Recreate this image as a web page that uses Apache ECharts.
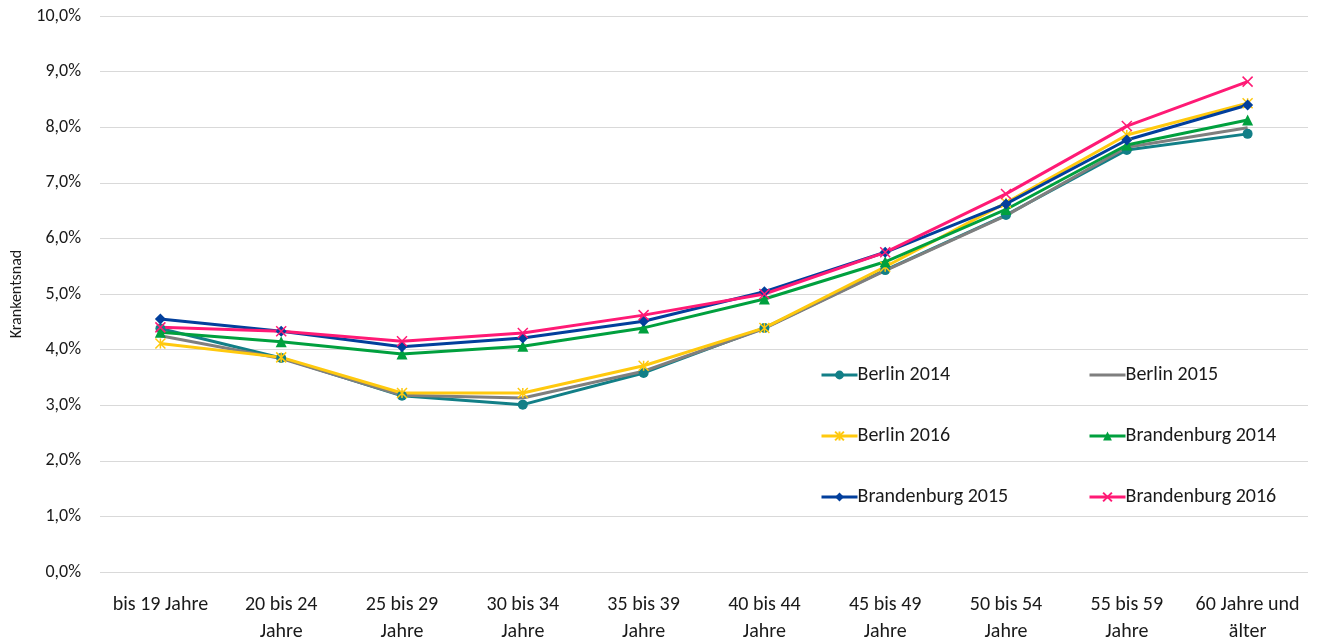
<!DOCTYPE html>
<html>
<head>
<meta charset="utf-8">
<title>Krankenstand</title>
<script src="https://cdn.jsdelivr.net/npm/echarts@6/dist/echarts.min.js"></script>
<style>
  html, body { margin: 0; padding: 0; background: #fff; }
  #chart { width: 1320px; height: 641px; }
</style>
</head>
<body>
<div id="chart"></div>
<script>
// age groups
const categories = ['bis 19 Jahre', '20 bis 24\nJahre', '25 bis 29\nJahre', '30 bis 34\nJahre', '35 bis 39\nJahre',
  '40 bis 44\nJahre', '45 bis 49\nJahre', '50 bis 54\nJahre', '55 bis 59\nJahre', '60 Jahre und\nälter']

// values in %
const berlin2014 = [4.38, 3.85, 3.17, 3.01, 3.58, 4.39, 5.43, 6.42, 7.59, 7.88]
const berlin2015 = [4.25, 3.84, 3.18, 3.13, 3.61, 4.38, 5.42, 6.41, 7.64, 7.99]
const berlin2016 = [4.11, 3.86, 3.22, 3.22, 3.71, 4.39, 5.49, 6.64, 7.86, 8.43]
const brandenburg2014 = [4.31, 4.14, 3.92, 4.06, 4.39, 4.91, 5.58, 6.52, 7.68, 8.13]
const brandenburg2015 = [4.55, 4.33, 4.05, 4.21, 4.51, 5.04, 5.75, 6.62, 7.77, 8.40]
const brandenburg2016 = [4.40, 4.33, 4.15, 4.30, 4.62, 5.00, 5.75, 6.80, 8.02, 8.82]

const yTicks = { min: 0, max: 10, interval: 1 }

const fontFamily = 'Carlito, "Open Sans", sans-serif'
const crossPath = 'path://M0,0L10,10M10,0L0,10'
const starPath = 'path://M0,0L10,10M10,0L0,10M5,0L5,10'

function makeSeries(name, data, color, symbol, size) {
  return {
    name: name,
    type: 'line',
    data: data,
    symbol: symbol,
    symbolSize: size,
    showSymbol: size > 0,
    lineStyle: { width: 3, color: color },
    itemStyle: { color: color, borderColor: color, borderWidth: symbol.indexOf('path') === 0 ? 1.5 : 0 },
    z: 2
  }
}

const legendBase = {
  top: 360,
  orient: 'vertical',
  itemGap: 41,
  itemWidth: 36,
  itemHeight: 11,
  lineStyle: { width: 3 },
  textStyle: { fontSize: 20, color: '#1a1a1a', padding: [0, 0, 0, -5] }
}

const chart = echarts.init(document.getElementById('chart'))
chart.setOption({
  animation: false,
  textStyle: { fontFamily: fontFamily },
  grid: { left: 100, right: 12, top: 16, bottom: 69, containLabel: false, outerBoundsMode: 'none' },
  legend: [Object.assign({}, legendBase, {
    left: 815,
    data: ['Berlin 2014', 'Berlin 2016', 'Brandenburg 2015']
  }), Object.assign({}, legendBase, {
    left: 1083,
    data: [{ name: 'Berlin 2015', itemStyle: { opacity: 0 } }, 'Brandenburg 2014', 'Brandenburg 2016']
  })],
  xAxis: {
    type: 'category',
    data: categories,
    boundaryGap: true,
    axisLine: { show: false },
    axisTick: { show: false },
    axisLabel: { color: '#1a1a1a', fontSize: 20, lineHeight: 27, margin: 19, interval: 0 }
  },
  yAxis: {
    type: 'value',
    min: yTicks.min,
    max: yTicks.max,
    interval: yTicks.interval,
    name: 'Krankentsnad',
    nameLocation: 'middle',
    nameGap: 74,
    nameTextStyle: { fontSize: 16, color: '#1a1a1a' },
    axisLine: { show: false },
    axisTick: { show: false },
    axisLabel: {
      color: '#1a1a1a',
      fontSize: 18,
      margin: 19,
      formatter: (v) => v.toFixed(1).replace('.', ',') + '%'
    },
    splitLine: { lineStyle: { color: '#d9d9d9', width: 1 } }
  },
  series: [
    makeSeries('Berlin 2014', berlin2014, '#127f87', 'circle', 10),
    makeSeries('Berlin 2015', berlin2015, '#7f7f7f', 'circle', 0),
    makeSeries('Berlin 2016', berlin2016, '#ffc90e', starPath, 10),
    makeSeries('Brandenburg 2014', brandenburg2014, '#00a03e', 'triangle', 11),
    makeSeries('Brandenburg 2015', brandenburg2015, '#023f9c', 'diamond', 11),
    makeSeries('Brandenburg 2016', brandenburg2016, '#ff1a75', crossPath, 10)
  ]
})
</script>
</body>
</html>
